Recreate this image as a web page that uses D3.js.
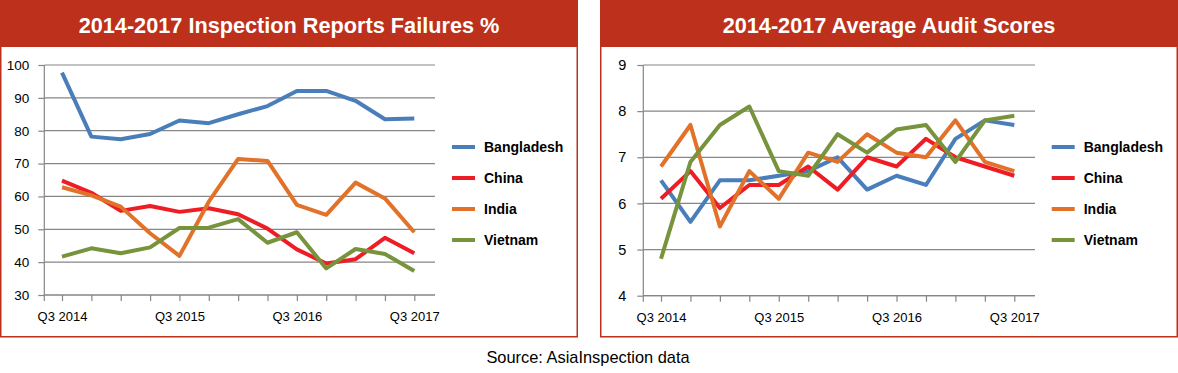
<!DOCTYPE html>
<html>
<head>
<meta charset="utf-8">
<title>AsiaInspection charts</title>
<script src="https://d3js.org/d3.v7.min.js"></script>
<style>
  body { margin: 0; background: #fff; }
  text { font-family: "Liberation Sans", Arial, sans-serif; }
</style>
</head>
<body>
<script>
// data
var quarters = ["Q3 2014","Q4 2014","Q1 2015","Q2 2015","Q3 2015","Q4 2015","Q1 2016",
                "Q2 2016","Q3 2016","Q4 2016","Q1 2017","Q2 2017","Q3 2017"];
var quarterLabels = ["Q3 2014","Q3 2015","Q3 2016","Q3 2017"];
var countries = ["Bangladesh","China","India","Vietnam"];

// inspection report failures %
var failBangladesh = [97.7, 78.2, 77.4, 79.0, 83.1, 82.3, 85.0, 87.5, 92.1, 92.1, 89.1, 83.5, 83.7];
var failChina      = [64.8, 61.1, 55.6, 57.1, 55.3, 56.4, 54.6, 50.2, 43.9, 39.6, 40.9, 47.4, 42.7];
var failIndia      = [62.8, 60.3, 56.9, 48.8, 41.9, 58.4, 71.4, 70.8, 57.4, 54.4, 64.2, 59.4, 49.1];
var failVietnam    = [41.7, 44.2, 42.7, 44.5, 50.4, 50.5, 53.1, 45.9, 49.1, 38.1, 44.0, 42.5, 37.3];
var failTicks = [30, 40, 50, 60, 70, 80, 90, 100];

// average audit scores
var scoreBangladesh = [6.5, 5.6, 6.5, 6.5, 6.6, 6.7, 7.0, 6.3, 6.6, 6.4, 7.4, 7.8, 7.7];
var scoreChina      = [6.1, 6.7, 5.9, 6.4, 6.4, 6.8, 6.3, 7.0, 6.8, 7.4, 7.0, 6.8, 6.6];
var scoreIndia      = [6.8, 7.7, 5.5, 6.7, 6.1, 7.1, 6.9, 7.5, 7.1, 7.0, 7.8, 6.9, 6.7];
var scoreVietnam    = [4.8, 6.9, 7.7, 8.1, 6.7, 6.6, 7.5, 7.1, 7.6, 7.7, 6.9, 7.8, 7.9];
var scoreTicks = [4, 5, 6, 7, 8, 9];

var colors = ["#4a7ebb", "#ee1d25", "#e2722a", "#77933c"];
var red = "#bd301c";
var grey = "#868686";

var W = 1178, H = 373;
var svg = d3.select("body").append("svg").attr("width", W).attr("height", H);

function drawPanel(p) {
  var g = svg.append("g").attr("transform", "translate(" + p.left + ",0)");

  // frame + header
  g.append("rect").attr("x", 0.75).attr("y", 0.75).attr("width", 576.5).attr("height", 336)
    .attr("fill", "#fff").attr("stroke", red).attr("stroke-width", 1.5);
  g.append("rect").attr("x", 0).attr("y", 0).attr("width", 578).attr("height", 47).attr("fill", red);
  g.append("text").attr("x", 289).attr("y", 32.5).attr("text-anchor", "middle")
    .attr("fill", "#fff").attr("font-weight", "bold").attr("font-size", "21.7px")
    .text(p.title);

  var x = d3.scalePoint().domain(quarters).range([p.x0, p.x1]);
  var y = d3.scaleLinear().domain(p.domain).range([p.y0, p.y1]);

  // gridlines
  g.append("g").selectAll("line").data(p.ticks).join("line")
    .attr("x1", p.axisX).attr("x2", p.gridEnd)
    .attr("y1", function(d) { return y(d); }).attr("y2", function(d) { return y(d); })
    .attr("stroke", grey).attr("stroke-width", 1.2);

  // y axis
  var ya = g.append("g").attr("transform", "translate(" + p.axisX + ",0)")
    .call(d3.axisLeft(y).tickValues(p.ticks).tickSize(6).tickPadding(p.pad).tickFormat(d3.format("d")));
  ya.select(".domain").remove();
  ya.selectAll("line").attr("stroke", grey).attr("stroke-width", 1.2);
  ya.selectAll("text").attr("font-size", p.yFont).attr("fill", "#000")
    .attr("font-family", "'Liberation Sans', Arial, sans-serif");
  g.append("line").attr("x1", p.axisX).attr("x2", p.axisX)
    .attr("y1", y(p.domain[1])).attr("y2", y(p.domain[0]) + 6)
    .attr("stroke", grey).attr("stroke-width", 1.2);

  // x axis
  var xa = g.append("g").attr("transform", "translate(0," + y(p.domain[0]) + ")")
    .call(d3.axisBottom(x).tickValues(quarters).tickSize(6).tickPadding(11)
      .tickFormat(function(d) { return quarterLabels.indexOf(d) >= 0 ? d : ""; }));
  xa.select(".domain").remove();
  xa.selectAll("line").attr("stroke", grey).attr("stroke-width", 1.2);
  xa.selectAll("text").attr("font-size", "13px").attr("fill", "#000")
    .attr("font-family", "'Liberation Sans', Arial, sans-serif");
  xa.append("line").attr("x1", p.axisX).attr("x2", p.gridEnd).attr("y1", 0).attr("y2", 0)
    .attr("stroke", grey).attr("stroke-width", 1.2);

  // series lines
  var line = d3.line()
    .x(function(d, i) { return x(quarters[i]); })
    .y(function(d) { return y(d); });
  g.append("g").selectAll("path").data(p.series).join("path")
    .attr("d", function(d) { return line(d); })
    .attr("fill", "none")
    .attr("stroke", function(d, i) { return colors[i]; })
    .attr("stroke-width", 4)
    .attr("stroke-linejoin", "round");

  // legend
  var leg = g.append("g").selectAll("g").data(countries).join("g")
    .attr("transform", function(d, i) { return "translate(" + p.legX + "," + (147 + i * 31) + ")"; });
  leg.append("line").attr("x1", 0).attr("x2", 23).attr("y1", 0).attr("y2", 0)
    .attr("stroke", function(d, i) { return colors[i]; }).attr("stroke-width", 4);
  leg.append("text").attr("x", 32).attr("y", 0).attr("dy", "0.35em")
    .attr("font-size", "14px").attr("font-weight", "bold").attr("fill", "#000")
    .text(function(d) { return d; });
}

drawPanel({
  left: 0, title: "2014-2017 Inspection Reports Failures %",
  domain: [30, 100], ticks: failTicks, y0: 295, y1: 65,
  x0: 62, x1: 414.3, axisX: 44.3, gridEnd: 435, pad: 9, legX: 452, yFont: "13.5px",
  series: [failBangladesh, failChina, failIndia, failVietnam]
});

drawPanel({
  left: 600, title: "2014-2017 Average Audit Scores",
  domain: [4, 9], ticks: scoreTicks, y0: 295.7, y1: 65,
  x0: 61, x1: 414.3, axisX: 43.3, gridEnd: 435, pad: 11, legX: 451.7, yFont: "14.5px",
  series: [scoreBangladesh, scoreChina, scoreIndia, scoreVietnam]
});

svg.append("text").attr("x", 588).attr("y", 363).attr("text-anchor", "middle")
  .attr("font-size", "16.4px").attr("fill", "#000")
  .text("Source: AsiaInspection data");
</script>
</body>
</html>
